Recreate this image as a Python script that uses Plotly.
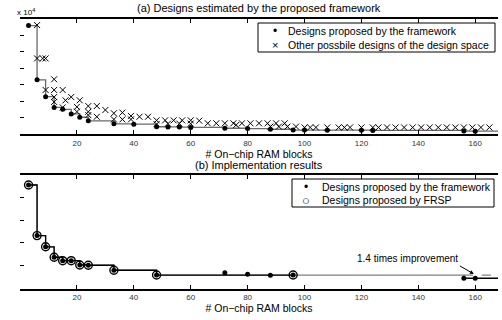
import plotly.graph_objects as go

# ---------------- data ----------------
X_MAX = 168
x_ticks = [20, 40, 60, 80, 100, 120, 140, 160]

# (a) estimated designs (values in units of 1e4)
fw_a_x = [3, 6, 9, 12, 15, 18, 21, 24, 33, 40, 48, 52, 56, 60, 72, 80, 88, 96, 100, 108, 120, 124, 156, 160]
fw_a_y = [6.6, 3.3, 2.27, 1.62, 1.5, 1.22, 1.02, 0.8, 0.62, 0.6, 0.44, 0.43, 0.42, 0.4, 0.35, 0.33, 0.29, 0.24, 0.24, 0.23, 0.23, 0.22, 0.18, 0.17]

other_x = [6, 6, 8, 9, 12, 9, 12, 15, 12, 18, 16, 21, 12, 15, 20, 20, 24, 27, 24, 24, 27, 30,
           33, 36, 33, 36, 39, 39, 42, 45, 48, 48, 51, 54, 57, 52, 56, 60, 60, 63,
           66, 69, 72, 75, 76, 78, 81, 84, 87, 90, 93, 88, 91, 94, 97,
           100, 102, 104, 108, 112, 114, 116, 120, 124, 126, 129, 132, 135, 138, 141,
           144, 147, 150, 153, 156, 159, 162, 165]
other_y = [6.63, 4.6, 4.6, 4.6, 3.33, 2.68, 2.68, 2.68, 2.25, 2.25, 2.05, 2.05, 1.95, 1.62, 1.65, 1.36, 1.7, 1.7, 1.35, 1.15, 1.05, 1.46,
           1.26, 1.3, 0.89, 0.89, 1.1, 0.89, 1.05, 1.05, 0.83, 0.6, 0.83, 0.83, 0.83, 0.63, 0.63, 0.83, 0.63, 0.81,
           0.65, 0.65, 0.65, 0.65, 0.55, 0.65, 0.65, 0.65, 0.65, 0.65, 0.65, 0.45, 0.45, 0.45, 0.45,
           0.4, 0.4, 0.4, 0.4, 0.4, 0.4, 0.4, 0.4, 0.4, 0.4, 0.4, 0.4, 0.4, 0.4, 0.4,
           0.4, 0.4, 0.4, 0.4, 0.4, 0.4, 0.4, 0.4]

# (b) implementation results
fw_b_x = [3, 6, 9, 12, 15, 18, 21, 24, 33, 48, 72, 80, 88, 96, 156, 160]
fw_b_y = [4.54, 2.32, 1.83, 1.37, 1.22, 1.22, 1.03, 1.02, 0.8, 0.59, 0.69, 0.62, 0.58, 0.59, 0.45, 0.45]
frsp_x = [3, 6, 9, 12, 15, 18, 21, 24, 33, 48, 96]
frsp_y = [4.54, 2.32, 1.83, 1.37, 1.22, 1.22, 1.03, 1.02, 0.8, 0.59, 0.59]
pareto_b_x = [3, 6, 9, 12, 15, 18, 21, 24, 33, 48, 156, 160]
pareto_b_y = [4.54, 2.32, 1.83, 1.37, 1.22, 1.22, 1.03, 1.02, 0.8, 0.59, 0.45, 0.45]

legend_a = [("\u2022", "Designs proposed by the framework"),
            ("\u00d7", "Other possbile designs of the design space")]
legend_b = [("\u2022", "Designs proposed by the framework"),
            ("\u25cb", "Designs proposed by FRSP")]

FONT = "Liberation Sans, Arial, Helvetica, sans-serif"
W, H = 502, 320
def px(v): return v / W
def py(v): return 1 - v / H

fig = go.Figure()

# ---- (a) ----
fig.add_trace(go.Scatter(x=fw_a_x + [X_MAX], y=fw_a_y + [fw_a_y[-1]], mode="lines",
                         line=dict(shape="hv", color="#6a6a6a", width=1.3),
                         showlegend=False, xaxis="x", yaxis="y", hoverinfo="skip"))
fig.add_trace(go.Scatter(x=fw_a_x, y=fw_a_y, mode="markers", name=legend_a[0][1],
                         marker=dict(symbol="circle", size=5, color="black"),
                         showlegend=False, xaxis="x", yaxis="y"))
fig.add_trace(go.Scatter(x=other_x, y=other_y, mode="markers", name=legend_a[1][1],
                         marker=dict(symbol="x-thin-open", size=6, line=dict(width=1, color="black"), color="black"),
                         showlegend=False, xaxis="x", yaxis="y"))

# ---- (b) ----
n156 = pareto_b_x.index(156)
fig.add_trace(go.Scatter(x=pareto_b_x[:n156 + 1], y=pareto_b_y[:n156 + 1], mode="lines",
                         line=dict(shape="hv", color="#808080", width=1.3),
                         showlegend=False, xaxis="x2", yaxis="y2", hoverinfo="skip"))
fig.add_trace(go.Scatter(x=frsp_x, y=frsp_y, mode="lines",
                         line=dict(shape="hv", color="black", width=1.3),
                         showlegend=False, xaxis="x2", yaxis="y2", hoverinfo="skip"))
fig.add_trace(go.Scatter(x=pareto_b_x[n156:] + [X_MAX], y=pareto_b_y[n156:] + [pareto_b_y[-1]], mode="lines",
                         line=dict(shape="hv", color="black", width=1.3),
                         showlegend=False, xaxis="x2", yaxis="y2", hoverinfo="skip"))
fig.add_trace(go.Scatter(x=[pareto_b_x[n156], X_MAX], y=[frsp_y[-1], frsp_y[-1]], mode="lines",
                         line=dict(color="#808080", width=1.3, dash="dash"),
                         showlegend=False, xaxis="x2", yaxis="y2", hoverinfo="skip"))
fig.add_trace(go.Scatter(x=fw_b_x, y=fw_b_y, mode="markers", name=legend_b[0][1],
                         marker=dict(symbol="circle", size=5, color="black"),
                         showlegend=False, xaxis="x2", yaxis="y2"))
fig.add_trace(go.Scatter(x=frsp_x, y=frsp_y, mode="markers", name=legend_b[1][1],
                         marker=dict(symbol="circle-open", size=8, color="black", line=dict(width=1.4, color="black")),
                         showlegend=False, xaxis="x2", yaxis="y2"))

xdom = [px(20), px(498)]
xa = dict(range=[0, X_MAX], tickvals=x_ticks, ticktext=[str(t) for t in x_ticks],
          ticks="inside", ticklen=4, tickcolor="black", showline=True, linewidth=2, linecolor="black",
          mirror="ticks", showgrid=False, zeroline=False, domain=xdom,
          tickfont=dict(size=8, color="#333333", family=FONT),
          title=dict(text="# On\u2212chip RAM blocks", font=dict(size=10.5, family=FONT, color="black"), standoff=0))
ya_common = dict(showgrid=False, zeroline=False, showticklabels=False, ticks="inside", ticklen=4,
                 tickcolor="black", showline=False)

annotations = [
    dict(text="(a) Designs estimated by the proposed framework", x=px(259), y=py(8), xref="paper", yref="paper",
         xanchor="center", yanchor="middle", showarrow=False, font=dict(size=11, family=FONT)),
    dict(text="(b) Implementation results", x=px(259), y=py(165), xref="paper", yref="paper",
         xanchor="center", yanchor="middle", showarrow=False, font=dict(size=11, family=FONT)),
    dict(text="x 10<sup>4</sup>", x=px(37), y=py(12), xref="paper", yref="paper", xanchor="right",
         yanchor="middle", showarrow=False, font=dict(size=8, family=FONT)),
    dict(text="1.4 times improvement", x=159.5, y=0.64, xref="x2", yref="y2", ax=-14, ay=-8,
         xanchor="right", yanchor="bottom", showarrow=True, arrowhead=2, arrowsize=0.8, arrowwidth=1,
         arrowcolor="black", font=dict(size=10, family=FONT)),
]
shapes = []

def add_legend(entries, box, sym_x, text_x, rows_y):
    x0, y0, x1, y1 = box
    shapes.append(dict(type="rect", xref="paper", yref="paper", x0=px(x0), x1=px(x1), y0=py(y1), y1=py(y0),
                       line=dict(color="black", width=1), fillcolor="white", layer="above"))
    sizes = {"\u00d7": 11, "\u2022": 12, "\u25cb": 13}
    for (sym, label), ry in zip(entries, rows_y):
        annotations.append(dict(text=sym, x=px(sym_x), y=py(ry), xref="paper", yref="paper", xanchor="center",
                                yanchor="middle", showarrow=False,
                                font=dict(size=sizes.get(sym, 11), family=FONT)))
        annotations.append(dict(text=label, x=px(text_x), y=py(ry), xref="paper", yref="paper", xanchor="left",
                                yanchor="middle", showarrow=False, font=dict(size=10.5, family=FONT)))

add_legend(legend_a, (258, 23, 495, 52), 275, 286, (31, 45))
add_legend(legend_b, (292, 179, 494, 207), 305.5, 320, (187, 200))

fig.update_layout(
    width=W, height=H, margin=dict(l=0, r=0, t=0, b=0),
    paper_bgcolor="white", plot_bgcolor="white",
    font=dict(family=FONT, color="black"),
    showlegend=False,
    xaxis=dict(xa, anchor="y"),
    yaxis=dict(ya_common, range=[0, 7], dtick=1, domain=[py(134), py(19)], anchor="x"),
    yaxis3=dict(range=[0, 7], dtick=1, overlaying="y", side="right", anchor="x", showline=True,
                linecolor="black", linewidth=1, ticks="inside", ticklen=4, tickcolor="black",
                showticklabels=False, showgrid=False, zeroline=False),
    xaxis2=dict(xa, anchor="y2"),
    yaxis2=dict(ya_common, range=[0, 5], dtick=1, domain=[py(288.5), py(174.5)], anchor="x2"),
    yaxis4=dict(range=[0, 5], dtick=1, overlaying="y2", side="right", anchor="x2", showline=True,
                linecolor="black", linewidth=1, ticks="inside", ticklen=4, tickcolor="black",
                showticklabels=False, showgrid=False, zeroline=False),
    annotations=annotations,
    shapes=shapes,
)

fig.write_html("out.html", config={"displayModeBar": False},
               post_script="document.body.style.margin='0';document.body.style.padding='0';"
                           "document.body.style.overflow='hidden';")
